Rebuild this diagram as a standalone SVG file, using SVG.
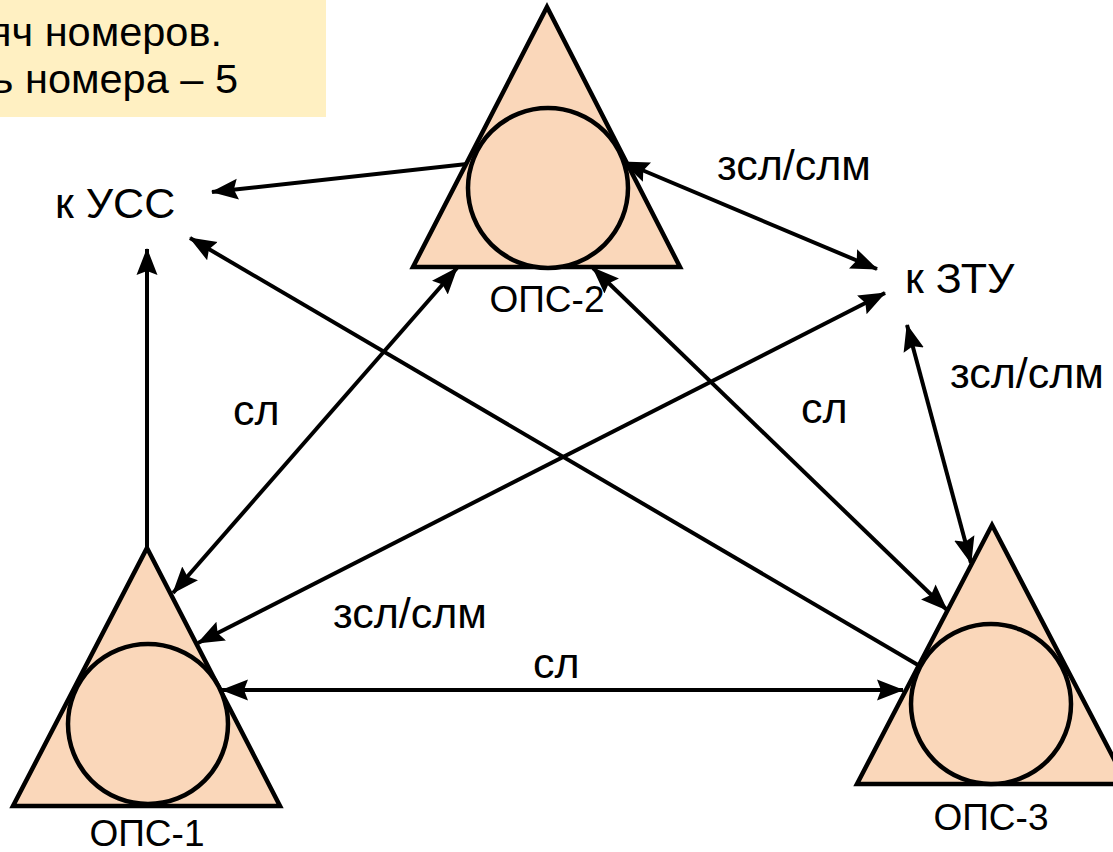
<svg xmlns="http://www.w3.org/2000/svg" width="1113" height="852" viewBox="0 0 1113 852">
  <style>
    .lbl { font-family: "Liberation Sans", Arial, sans-serif; font-size: 43px; fill: #000; }
    .note { font-family: "Liberation Sans", Arial, sans-serif; font-size: 41.5px; fill: #000; text-anchor: end; }
    .nlbl { font-family: "Liberation Sans", Arial, sans-serif; font-size: 37px; fill: #000; text-anchor: middle; }
    .tri { fill: #FAD7BA; stroke: #000; stroke-width: 4.5; stroke-linejoin: miter; }
    .cir { fill: #FAD7BA; stroke: #000; stroke-width: 4.5; }
    .ln { stroke: #000; stroke-width: 4; fill: none; }
    .one { marker-end: url(#ah); }
    .two { marker-start: url(#ah); marker-end: url(#ah); }
  </style>
  <defs>
    <marker id="ah" markerUnits="userSpaceOnUse" markerWidth="27" markerHeight="23" refX="26" refY="11.5" orient="auto-start-reverse">
      <path d="M0,1 L27,11.5 L0,22 L4,11.5 z" fill="#000"/>
    </marker>
  </defs>

  <rect width="1113" height="852" fill="#fff"/>

  <!-- note box in the upper left corner -->
  <g id="note">
    <rect x="-10" y="0" width="336" height="117" fill="#FFF0C2"/>
    <text class="note" x="222" y="46">яч номеров.</text>
    <text class="note" x="238" y="93">ь номера – 5</text>
  </g>

  <!-- connectors -->
  <g id="connectors">
    <line class="ln one" x1="467" y1="164" x2="212" y2="192"/>
    <line class="ln one" x1="147" y1="548" x2="147" y2="249"/>
    <line class="ln one" x1="918" y1="665" x2="190" y2="238"/>
    <line class="ln two" x1="173" y1="593" x2="457" y2="268"/>
    <line class="ln two" x1="198" y1="643" x2="885" y2="293"/>
    <line class="ln two" x1="222" y1="690" x2="903" y2="690"/>
    <line class="ln two" x1="593" y1="268" x2="947" y2="610"/>
    <line class="ln two" x1="623" y1="162" x2="877" y2="269"/>
    <line class="ln two" x1="907" y1="325" x2="971" y2="563"/>
  </g>

  <!-- station ОПС-2 -->
  <g id="ops2">
    <polygon class="tri" points="547,7 680,267 413,267"/>
    <circle class="cir" cx="548" cy="188" r="80"/>
    <text class="nlbl" x="547" y="312">ОПС-2</text>
  </g>

  <!-- station ОПС-1 -->
  <g id="ops1">
    <polygon class="tri" points="147,548 280,806 13,806"/>
    <circle class="cir" cx="148" cy="724" r="80"/>
    <text class="nlbl" x="147" y="846">ОПС-1</text>
  </g>

  <!-- station ОПС-3 -->
  <g id="ops3">
    <polygon class="tri" points="992,525 1127,784 857,784"/>
    <circle class="cir" cx="991" cy="704" r="80"/>
    <text class="nlbl" x="991" y="830">ОПС-3</text>
  </g>

  <!-- external directions -->
  <g id="uss">
    <text class="lbl" x="55" y="218">к УСС</text>
  </g>
  <g id="ztu">
    <text class="lbl" x="905" y="293">к ЗТУ</text>
  </g>

  <!-- line type labels -->
  <g id="labels">
    <text class="lbl" x="717" y="180">зсл/слм</text>
    <text class="lbl" x="950" y="388">зсл/слм</text>
    <text class="lbl" x="233" y="425">сл</text>
    <text class="lbl" x="801" y="423">сл</text>
    <text class="lbl" x="333" y="628">зсл/слм</text>
    <text class="lbl" x="533" y="678">сл</text>
  </g>
</svg>
